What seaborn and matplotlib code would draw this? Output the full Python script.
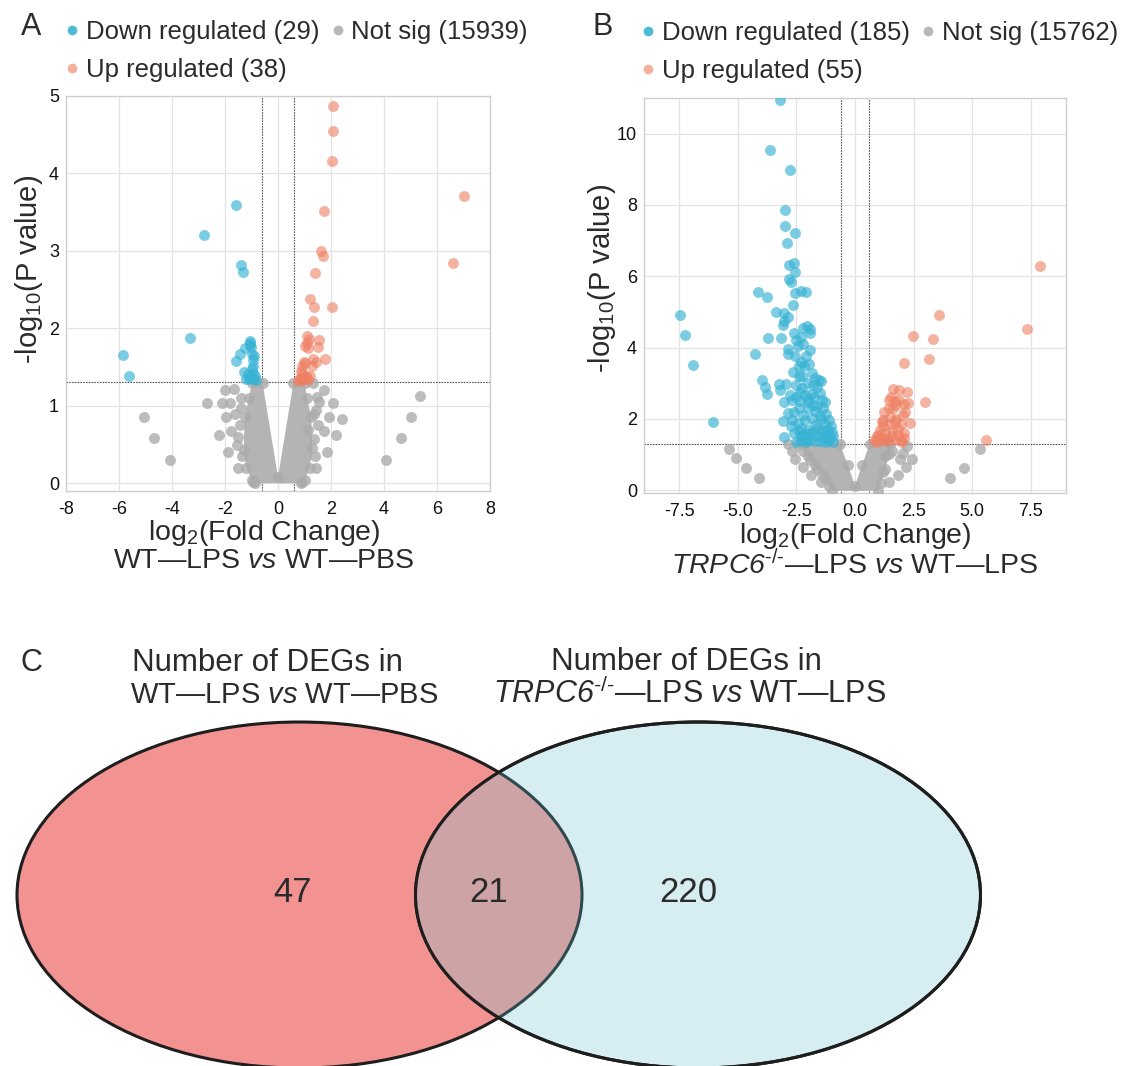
import numpy as np
import pandas as pd
import matplotlib
matplotlib.use("Agg")
import matplotlib.pyplot as plt
import seaborn as sns
from matplotlib.patches import Ellipse
from matplotlib.lines import Line2D

# ---------------- data ----------------
# Panel A : WT-LPS vs WT-PBS
a_down_x = [-5.86, -5.63, -3.33, -2.80, -1.59, -1.41, -1.31, -1.04, -1.06, -1.24,
            -1.43, -1.60, -0.97, -0.94, -0.93, -1.29, -1.14, -0.94, -1.01, -0.86,
            -1.10, -1.04, -0.84, -1.02, -0.92, -1.00, -1.19, -0.90, -1.06]
a_down_y = [1.65, 1.39, 1.88, 3.20, 3.59, 2.82, 2.73, 1.84, 1.78, 1.74,
            1.67, 1.58, 1.67, 1.59, 1.51, 1.44, 1.41, 1.42, 1.37, 1.39,
            1.35, 1.36, 1.33, 1.76, 1.64, 1.47, 1.35, 1.35, 1.81]
a_up_x = [2.07, 2.06, 2.03, 7.00, 1.72, 1.64, 1.68, 6.59, 1.40, 1.21,
          1.37, 2.02, 1.32, 1.10, 1.56, 1.08, 1.02, 1.13, 1.51, 1.76,
          1.31, 1.45, 0.97, 1.02, 1.29, 0.89, 0.85, 0.92, 1.21, 1.05,
          0.78, 0.85, 0.98, 1.08, 0.75, 0.92, 1.13, 1.16]
a_up_y = [4.87, 4.55, 4.16, 3.71, 3.52, 3.00, 2.93, 2.84, 2.71, 2.38,
          2.28, 2.28, 2.09, 1.90, 1.85, 1.81, 1.77, 1.74, 1.76, 1.60,
          1.60, 1.57, 1.57, 1.55, 1.51, 1.51, 1.45, 1.42, 1.39, 1.38,
          1.35, 1.36, 1.34, 1.36, 1.32, 1.33, 1.33, 1.86]
a_ns_x = [-5.06, -4.67, -4.09, -2.68, -2.13, -1.83, -1.99, -1.67, -1.95, -2.21,
          -1.78, -1.89, -1.51, -0.94, -1.56, -1.64, -1.40, 4.07, 4.63, 5.02,
          5.35, 1.75, 2.09, 2.42, 1.93, 2.17, 1.72, 1.86, 1.45, 0.90,
          1.37, 1.45, 1.49, 1.32, 1.13, -1.45, -1.35, -1.50, -1.40, 1.40,
          1.50, 1.55, 1.35]
a_ns_y = [0.86, 0.58, 0.30, 1.04, 1.04, 1.04, 1.20, 1.22, 0.85, 0.62,
          0.67, 0.41, 0.20, 0.01, 0.49, 0.90, 0.97, 0.30, 0.58, 0.86,
          1.13, 1.20, 1.03, 0.83, 0.85, 0.62, 0.67, 0.41, 0.20, 0.01,
          0.57, 0.95, 1.12, 1.29, 0.69, 0.75, 0.35, 0.60, 1.10, 0.35,
          0.75, 1.05, 0.90]
# outline of the dense cloud of non-significant genes
a_cloud_x = [-0.99, -1.10, -1.25, -1.30, -1.20, -0.99, -0.85, 0.85, 1.00, 1.20,
             1.30, 1.25, 1.10, 1.00, 0.58, 0.00, -0.58]
a_cloud_y = [1.29, 1.10, 0.85, 0.43, 0.20, 0.04, 0.00, 0.00, 0.04, 0.20,
             0.45, 0.85, 1.10, 1.29, 1.29, 0.08, 1.29]
a_counts = [29, 15939, 38]

# Panel B : TRPC6-/- -LPS vs WT-LPS
b_down_x = [-3.20, -3.63, -2.79, -2.98, -2.99, -2.58, -2.91, -2.81, -2.60, -2.55,
            -2.82, -2.73, -2.29, -2.11, -2.58, -4.14, -3.75, -2.64, -3.39, -3.04,
            -2.84, -3.01, -3.08, -7.47, -7.27, -6.92, -6.04, -4.27, -3.73, -3.16,
            -2.20, -2.03, -1.90, -2.32, -1.94, -2.44, -1.90, -2.87, -2.84, -2.57,
            -2.40, -2.19, -2.26, -2.64, -1.85, -1.69, -1.53, -1.44, -3.95, -3.86,
            -3.77, -3.25, -3.19, -2.93, -2.52, -2.28, -2.78, -2.14, -1.88, -1.49,
            -3.01, -2.67, -2.35, -2.02, -1.41, -1.29, -2.84, -1.72, -1.38, -3.08,
            -2.70, -2.75, -2.44, -2.29, -2.14, -1.84, -1.69, -1.49, -1.23, -1.11,
            -1.03, -1.38, -1.00, -0.93, -3.02, -2.60, -2.29, -1.96, -1.61, -1.31,
            -2.06, -2.50, -2.30, -2.10, -1.90, -1.70, -1.50, -1.30, -1.10, -0.95,
            -2.40, -2.20, -2.00, -1.80, -1.60, -1.40, -1.20, -1.05, -2.60, -2.40,
            -2.20, -2.00, -1.80, -1.60, -1.45, -1.30, -1.15, -2.50, -2.35, -2.00,
            -1.75, -1.60, -1.80, -2.05, -2.40, -2.30, -2.10, -1.95, -2.50, -2.60,
            -2.20]
b_down_y = [10.95, 9.55, 8.99, 7.87, 7.41, 7.20, 6.92, 6.32, 6.38, 6.13,
            5.92, 5.84, 5.59, 5.55, 5.52, 5.56, 5.43, 5.20, 5.00, 4.96,
            4.85, 4.74, 4.64, 4.92, 4.34, 3.52, 1.92, 3.82, 4.26, 4.26,
            4.54, 4.61, 4.51, 4.29, 4.40, 4.03, 3.94, 3.96, 3.82, 3.75,
            3.49, 3.47, 3.21, 3.31, 3.30, 3.14, 3.10, 3.05, 3.08, 2.89,
            2.70, 2.99, 2.82, 2.97, 2.95, 2.86, 2.68, 2.68, 2.69, 2.72,
            2.47, 2.52, 2.49, 2.46, 2.54, 2.47, 2.16, 2.21, 2.30, 1.93,
            1.98, 1.79, 1.88, 1.74, 1.98, 2.02, 1.84, 2.07, 2.14, 1.96,
            1.79, 1.70, 1.62, 1.51, 1.48, 1.60, 1.51, 1.60, 1.53, 1.46,
            1.42, 1.35, 1.38, 1.36, 1.40, 1.37, 1.39, 1.36, 1.38, 1.35,
            1.65, 1.55, 1.70, 1.62, 1.75, 1.60, 1.55, 1.45, 2.20, 2.30,
            2.10, 2.30, 2.40, 2.35, 2.00, 1.85, 1.70, 2.60, 2.75, 2.55,
            2.60, 2.90, 2.95, 3.00, 3.20, 3.60, 3.75, 3.55, 4.20, 4.40,
            4.10]
b_up_x = [7.91, 7.32, 3.57, 2.47, 3.34, 3.16, 2.10, 5.60, 2.99, 1.62,
          1.88, 2.22, 1.43, 1.69, 1.88, 1.75, 2.08, 1.23, 1.50, 1.76,
          2.03, 1.20, 1.58, 1.84, 2.35, 2.08, 0.93, 1.05, 1.35, 1.69,
          1.96, 0.82, 1.05, 1.58, 2.11, 1.20, 1.43, 0.90, 1.10, 1.30,
          1.50, 1.70, 1.95, 2.15, 1.60, 1.40, 1.85, 2.00, 1.25, 0.98,
          1.15, 2.25, 1.55]
b_up_y = [6.29, 4.53, 4.92, 4.33, 4.25, 3.68, 3.56, 1.42, 2.48, 2.84,
          2.80, 2.75, 2.52, 2.49, 2.54, 2.40, 2.43, 2.18, 2.05, 2.00,
          2.12, 1.79, 1.70, 1.72, 1.87, 1.59, 1.53, 1.70, 1.46, 1.42,
          1.40, 1.42, 1.37, 1.51, 1.46, 1.98, 2.30, 1.35, 1.45, 1.60,
          1.85, 1.95, 1.85, 2.20, 2.30, 1.38, 1.55, 1.35, 1.40, 1.55,
          1.90, 2.45, 2.60]
b_ns_x = [-5.36, -5.07, -4.66, -4.10, -2.87, -2.69, -2.55, -2.22, -1.88, -1.46,
          5.34, 4.63, 4.07, 2.23, 2.44, 2.16, 1.93, 1.85, 1.47, 1.58, 2.03,
          -2.00, -1.70, -1.40, 1.30, 1.20]
b_ns_y = [1.16, 0.89, 0.61, 0.33, 1.30, 1.09, 0.86, 0.64, 0.42, 0.22,
          1.16, 0.61, 0.33, 1.23, 0.86, 0.64, 0.86, 0.42, 0.22, 1.11, 1.04,
          0.95, 0.70, 0.45, 0.95, 0.50]
b_cloud_x = [-2.45, -2.20, -1.90, -1.60, -1.30, -1.10, -1.00, 1.00, 1.10, 1.30,
             1.45, 1.50, 0.62, 0.30, 0.00, -0.30, -0.64]
b_cloud_y = [1.29, 1.10, 0.85, 0.60, 0.35, 0.12, -0.02, -0.02, 0.20, 0.60,
             1.00, 1.29, 1.29, 0.70, 0.12, 0.70, 1.29]
b_counts = [185, 15762, 55]

# Panel C : Venn counts (left only, shared, right only)
venn_counts = [47, 21, 220]

# ---------------- style ----------------
sns.set_style("white")
plt.rcParams["font.family"] = ["Liberation Sans", "DejaVu Sans"]
plt.rcParams["mathtext.fontset"] = "custom"
plt.rcParams["mathtext.rm"] = "Liberation Sans"
plt.rcParams["mathtext.it"] = "Liberation Sans:italic"
plt.rcParams["mathtext.sf"] = "Liberation Sans:italic"
plt.rcParams["mathtext.default"] = "regular"

TXT = "#2b2b2b"
C_DOWN = "#36b2d4"
C_UP = "#ee7f62"
C_NS = "#ababab"
C_CLOUD = "#b4b4b4"
LEG_DOWN = "#4dbbd5"
LEG_NS = "#b8b8b8"
LEG_UP = "#f5b09c"

LABEL_FS = 20.5
TICK_FS = 13
HY = "\u2010"
SUBT_B = r"$\mathsf{TRPC6}^{" + HY + "/" + HY + r"}$—LPS $\mathsf{vs}$ WT—LPS"
SUBT_A = r"WT—LPS $\mathsf{vs}$ WT—PBS"

W, H = 1131, 1066
fig = plt.figure(figsize=(W / 100, H / 100), dpi=100)


def px_axes(left, top, right, bottom):
    return fig.add_axes([left / W, 1 - bottom / H, (right - left) / W, (bottom - top) / H])


def volcano(ax, dx, dy, ux, uy, nx, ny, cx, cy, xlim, ylim, xticks, yticks, xtl):
    ax.set_axisbelow(True)
    ax.grid(True, color="#e3e3e3", lw=0.9)
    for s in ax.spines.values():
        s.set_color("#cfcfcf")
        s.set_linewidth(1.0)
    ax.axhline(-np.log10(0.05), color="#555555", lw=0.8, ls=(0, (1.5, 1.0)), zorder=1)
    for v in (-np.log2(1.5), np.log2(1.5)):
        ax.axvline(v, color="#555555", lw=0.8, ls=(0, (1.5, 1.0)), zorder=1)
    ax.fill(cx, cy, color=C_CLOUD, lw=0, zorder=2)
    ns = pd.DataFrame({"x": list(nx) + list(cx), "y": list(ny) + list(cy)})
    sns.scatterplot(data=ns, x="x", y="y", color=C_NS, s=62, alpha=0.8,
                    linewidth=0, ax=ax, zorder=3)
    dn = pd.DataFrame({"x": dx, "y": dy})
    sns.scatterplot(data=dn, x="x", y="y", color=C_DOWN, s=62, alpha=0.65,
                    linewidth=0, ax=ax, zorder=4)
    up = pd.DataFrame({"x": ux, "y": uy})
    sns.scatterplot(data=up, x="x", y="y", color=C_UP, s=62, alpha=0.6,
                    linewidth=0, ax=ax, zorder=4)
    ax.set_xlim(*xlim)
    ax.set_ylim(*ylim)
    ax.set_xticks(xticks)
    ax.set_xticklabels(xtl)
    ax.set_yticks(yticks)
    ax.tick_params(length=0, labelsize=TICK_FS, colors="#111111")
    ax.tick_params(axis="x", pad=7)
    ax.tick_params(axis="y", pad=5)
    ax.set_xlabel("")
    ax.set_ylabel("")


# Panel A
axA = px_axes(66, 96, 490, 491)
volcano(axA, a_down_x, a_down_y, a_up_x, a_up_y, a_ns_x, a_ns_y, a_cloud_x, a_cloud_y,
        (-8, 8), (-0.1, 5.0), np.arange(-8, 9, 2), np.arange(0, 6, 1),
        [str(v) for v in np.arange(-8, 9, 2)])
axA.text(0.467, -0.106, "log$_2$(Fold Change)", transform=axA.transAxes,
         ha="center", va="center", fontsize=LABEL_FS, color=TXT)
axA.text(0.467, -0.178, SUBT_A, transform=axA.transAxes,
         ha="center", va="center", fontsize=LABEL_FS, color=TXT)
axA.text(-0.088, 0.56, "-log$_{10}$(P value)", transform=axA.transAxes, rotation=90,
         ha="center", va="center", fontsize=LABEL_FS + 0.5, color=TXT)

# Panel B
axB = px_axes(644, 98, 1066, 493)
volcano(axB, b_down_x, b_down_y, b_up_x, b_up_y, b_ns_x, b_ns_y, b_cloud_x, b_cloud_y,
        (-9, 9), (-0.08, 11.0), np.arange(-7.5, 7.6, 2.5), np.arange(0, 11, 2),
        ["%.1f" % v for v in np.arange(-7.5, 7.6, 2.5)])
axB.text(0.5, -0.110, "log$_2$(Fold Change)", transform=axB.transAxes,
         ha="center", va="center", fontsize=LABEL_FS, color=TXT)
axB.text(0.5, -0.181, SUBT_B, transform=axB.transAxes,
         ha="center", va="center", fontsize=LABEL_FS, color=TXT)
axB.text(-0.100, 0.544, "-log$_{10}$(P value)", transform=axB.transAxes, rotation=90,
         ha="center", va="center", fontsize=LABEL_FS + 0.5, color=TXT)


# legends
def add_legend(counts, left_px, top_px):
    labels = ["Down regulated (%d)" % counts[0], "Up regulated (%d)" % counts[2],
              "Not sig (%d)" % counts[1]]
    cols = [LEG_DOWN, LEG_UP, LEG_NS]
    handles = [Line2D([], [], ls="", marker="o", ms=7, mfc=c, mec="none") for c in cols]
    fig.legend(handles, labels, loc="upper left",
               bbox_to_anchor=(left_px / W, 1 - top_px / H), ncol=2, frameon=False,
               fontsize=18.5, labelcolor=TXT, handlelength=0.55, handletextpad=0.25,
               columnspacing=0.45, labelspacing=0.55, borderpad=0, borderaxespad=0)


add_legend(a_counts, 65, 20)
add_legend(b_counts, 641, 21)

fig.text(31 / W, 1 - 27 / H, "A", fontsize=22, color=TXT, ha="center", va="center")
fig.text(603 / W, 1 - 27 / H, "B", fontsize=22, color=TXT, ha="center", va="center")
fig.text(31 / W, 1 - 663 / H, "C", fontsize=22, color=TXT, ha="center", va="center")

# Panel C : Venn diagram
axC = fig.add_axes([0, 0, 1, 446 / H])
axC.set_xlim(0, W)
axC.set_ylim(H, H - 446)
axC.axis("off")
L_CEN, R_CEN, EW, EH = (299.5, 895), (698, 895), 565, 346
left_e = Ellipse(L_CEN, EW, EH, facecolor="#f39391", edgecolor="#1e1e1e", lw=2.2, zorder=1)
right_e = Ellipse(R_CEN, EW, EH, facecolor="#d6eef2", edgecolor="#1e1e1e", lw=2.2, zorder=2)
axC.add_patch(left_e)
axC.add_patch(right_e)
lens = Ellipse(L_CEN, EW, EH, facecolor="#cda3a6", edgecolor="#2f4a4c", lw=2.2, zorder=3)
axC.add_patch(lens)
lens.set_clip_path(right_e)
edge_r = Ellipse(R_CEN, EW, EH, facecolor="none", edgecolor="#1e1e1e", lw=2.2, zorder=4)
axC.add_patch(edge_r)
for xpos, val in zip([293, 489, 688], venn_counts):
    axC.text(xpos, 893, str(val), ha="center", va="center", fontsize=25, color=TXT, zorder=5)

fig.text(267 / W, 1 - 663 / H, "Number of DEGs in", ha="center", va="center",
         fontsize=22.5, color=TXT)
fig.text(284 / W, 1 - 695 / H, SUBT_A, ha="center", va="center",
         fontsize=21, color=TXT)
fig.text(686 / W, 1 - 662 / H, "Number of DEGs in", ha="center", va="center",
         fontsize=22.5, color=TXT)
fig.text(690 / W, 1 - 694 / H, SUBT_B, ha="center", va="center", fontsize=22, color=TXT)

fig.savefig("out.png", dpi=100)
